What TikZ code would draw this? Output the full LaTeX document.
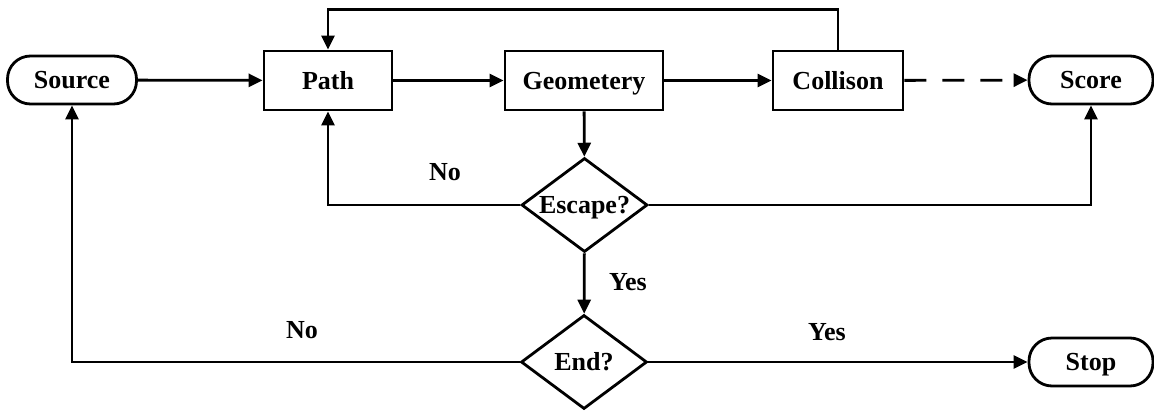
\documentclass[tikz,border=0pt]{standalone}
\usepackage{fontspec}
\setmainfont{Liberation Serif}
\usetikzlibrary{arrows.meta,shapes.geometric}
\begin{document}
\begin{tikzpicture}[x=1pt,y=-1pt,
  every node/.style={font=\fontsize{26}{30}\selectfont\bfseries, inner sep=0pt, text height=19pt, text depth=2pt},
  box/.style={draw, line width=2.8pt, minimum height=59pt},
  term/.style={draw, line width=2.8pt, rounded corners=23pt, minimum height=48pt},
  decision/.style={draw, diamond, aspect=1.4, line width=2.8pt, minimum width=126pt, minimum height=94pt},
  conn/.style={line width=2.8pt, -{Triangle[length=14pt,width=13pt]}},
  lbl/.style={}]
\useasboundingbox[fill=white] (0,0) rectangle (1154,410);
\node[term, minimum width=129pt] (source) at (72,80) {Source};
\node[box, minimum width=128pt] (path) at (328,80.5) {Path};
\node[box, minimum width=158pt] (geo) at (584,80.5) {Geometery};
\node[box, minimum width=130pt] (coll) at (838,80.5) {Collison};
\node[term, minimum width=124pt] (score) at (1091,80) {Score};
\node[decision] (esc) at (584.5,205) {Escape?};
\node[decision] (end) at (584,362) {End?};
\node[term, minimum width=124pt] (stop) at (1091,362) {Stop};

\draw[conn] (source) -- (path);
\draw[conn] (path) -- (geo);
\draw[conn] (geo) -- (coll);
\draw[conn, dash pattern=on 22pt off 16pt] (coll) -- (score);
\draw[conn] (coll.north) -- ++(0,-40) -| (path.north);
\draw[conn] (geo) -- (esc);
\draw[conn] (esc.west) -| (path.south);
\draw[conn] (esc.east) -| (score.south);
\draw[conn] (esc) -- (end);
\draw[conn] (end.west) -| (source.south);
\draw[conn] (end) -- (stop);

\node[lbl] (n1) at (445,172) {No};
\node[lbl] (y1) at (628,282) {Yes};
\node[lbl] (n2) at (302,330) {No};
\node[lbl] (y2) at (827,332) {Yes};
\end{tikzpicture}
\end{document}
